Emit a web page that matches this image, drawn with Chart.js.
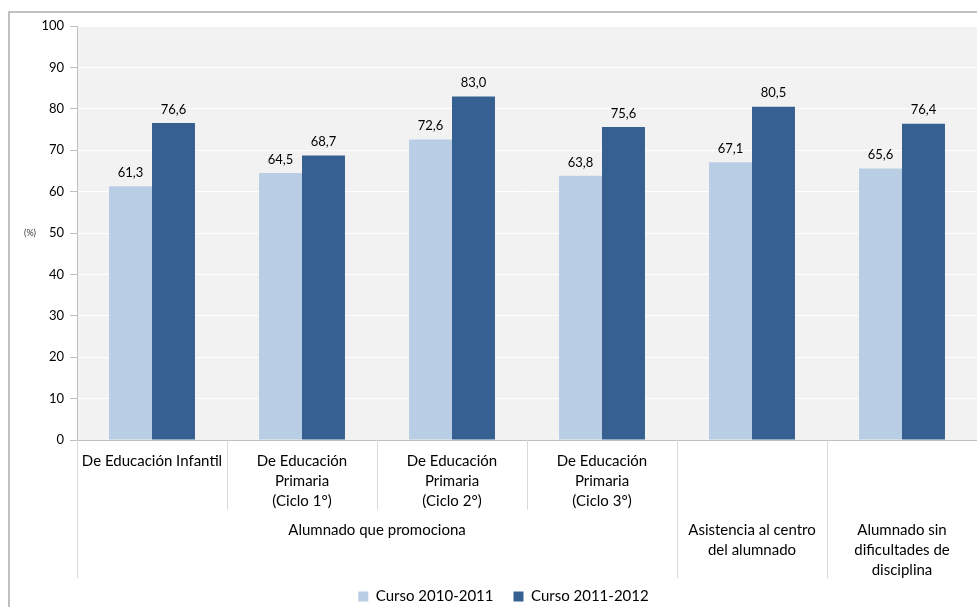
<!DOCTYPE html>
<html>
<head>
<meta charset="utf-8">
<script src="https://cdn.jsdelivr.net/npm/chart.js@4/dist/chart.umd.min.js"></script>
<style>
  html, body { margin: 0; padding: 0; background: #ffffff; overflow: hidden; }
  #frame { position: absolute; left: 8px; top: 11px; width: 1200px; height: 800px;
           border-left: 2px solid #c0c0c0; border-top: 2px solid #c0c0c0; }
  #wrap { position: absolute; left: 0; top: 0; width: 977px; height: 607px; }
</style>
</head>
<body>
<div id="frame"></div>
<div id="wrap"><canvas id="c" width="977" height="607"></canvas></div>
<script>
// ---- Data ----
const categoryLabels = [
  'De Educación Infantil',
  ['De Educación', 'Primaria', '(Ciclo 1°)'],
  ['De Educación', 'Primaria', '(Ciclo 2°)'],
  ['De Educación', 'Primaria', '(Ciclo 3°)'],
  '',
  ''
];
const groupLabels = [
  ['Alumnado que promociona'],
  ['Asistencia al centro', 'del alumnado'],
  ['Alumnado sin', 'dificultades de', 'disciplina']
];
const groupSpans = [[0, 3], [4, 4], [5, 5]];
const seriesNames = ['Curso 2010-2011', 'Curso 2011-2012'];
const curso2010 = [61.3, 64.5, 72.6, 63.8, 67.1, 65.6];
const curso2011 = [76.6, 68.7, 83.0, 75.6, 80.5, 76.4];
const yTicks = [0, 10, 20, 30, 40, 50, 60, 70, 80, 90, 100];

const FONT = 'Lato, "Open Sans", sans-serif';
const LIGHT = '#b9cde5';
const DARK = '#366092';

const decorPlugin = {
  id: 'decor',
  beforeDraw(chart) {
    const { ctx, chartArea: a } = chart;
    ctx.save();
    ctx.fillStyle = '#f2f2f2';
    ctx.fillRect(a.left, a.top, a.right - a.left, a.bottom - a.top);
    ctx.restore();
  },
  afterDatasetsDraw(chart) {
    const { ctx } = chart;
    ctx.save();
    ctx.font = '13px ' + FONT;
    ctx.fillStyle = '#000';
    ctx.textAlign = 'center';
    ctx.textBaseline = 'bottom';
    chart.data.datasets.forEach((ds, di) => {
      const meta = chart.getDatasetMeta(di);
      meta.data.forEach((bar, i) => {
        const v = ds.data[i];
        ctx.fillText(v.toFixed(1).replace('.', ','), bar.x, bar.y - 7);
      });
    });
    ctx.restore();
  },
  afterDraw(chart) {
    const { ctx, chartArea: a } = chart;
    const xs = chart.scales.x;
    const n = chart.data.labels.length;
    const step = xs.getPixelForValue(1) - xs.getPixelForValue(0);
    const boundary = (i) => xs.getPixelForValue(i) - step / 2;
    const groupStarts = new Set(groupSpans.map(g => g[0]));
    ctx.save();
    ctx.strokeStyle = '#d9d9d9';
    ctx.lineWidth = 1;
    for (let i = 0; i < n; i++) {
      const x = Math.round(boundary(i)) + 0.5;
      const yEnd = groupStarts.has(i) ? a.bottom + 138 : a.bottom + 70;
      ctx.beginPath();
      ctx.moveTo(x, a.bottom);
      ctx.lineTo(x, yEnd);
      ctx.stroke();
    }
    // group labels
    ctx.font = '15px ' + FONT;
    ctx.fillStyle = '#000';
    ctx.textAlign = 'center';
    ctx.textBaseline = 'middle';
    groupSpans.forEach((g, gi) => {
      const left = boundary(g[0]);
      const right = boundary(g[1] + 1);
      const cx = (left + right) / 2;
      groupLabels[gi].forEach((line, li) => {
        ctx.fillText(line, cx, a.bottom + 90 + li * 20);
      });
    });
    // (%) label
    ctx.font = '9px ' + FONT;
    ctx.fillStyle = '#333';
    ctx.textAlign = 'center';
    ctx.fillText('(%)', 30, chart.scales.y.getPixelForValue(50));
    ctx.restore();
  }
};

new Chart(document.getElementById('c'), {
  type: 'bar',
  data: {
    labels: categoryLabels,
    datasets: [
      { label: seriesNames[0], data: curso2010, backgroundColor: LIGHT,
        barPercentage: 1.0, categoryPercentage: 0.573 },
      { label: seriesNames[1], data: curso2011, backgroundColor: DARK,
        barPercentage: 1.0, categoryPercentage: 0.573 }
    ]
  },
  options: {
    responsive: false,
    devicePixelRatio: 1,
    animation: false,
    layout: { padding: { top: 26, left: 30, right: 0, bottom: -7 } },
    plugins: {
      tooltip: { enabled: false },
      legend: {
        position: 'bottom',
        labels: {
          boxWidth: 10, boxHeight: 10, padding: 20,
          font: { family: FONT, size: 15 },
          color: '#000'
        }
      }
    },
    scales: {
      x: {
        offset: true,
        grid: { display: false },
        border: { display: true, color: '#bfbfbf', width: 1 },
        ticks: {
          font: { family: FONT, size: 15, lineHeight: 1.333 },
          color: '#000',
          maxRotation: 0, minRotation: 0, autoSkip: false,
          padding: 3
        },
        afterFit(scale) { scale.height = 129; }
      },
      y: {
        min: 0, max: 100,
        afterBuildTicks(scale) { scale.ticks = yTicks.map(v => ({ value: v })); },
        grid: { color: '#ffffff', lineWidth: 1, drawTicks: true, tickLength: 7, tickColor: '#bfbfbf' },
        border: { display: true, color: '#bfbfbf', width: 1 },
        ticks: {
          font: { family: FONT, size: 13 },
          color: '#000',
          padding: 6
        },
        afterFit(scale) { scale.width = 47; }
      }
    }
  },
  plugins: [decorPlugin]
});
</script>
</body>
</html>
